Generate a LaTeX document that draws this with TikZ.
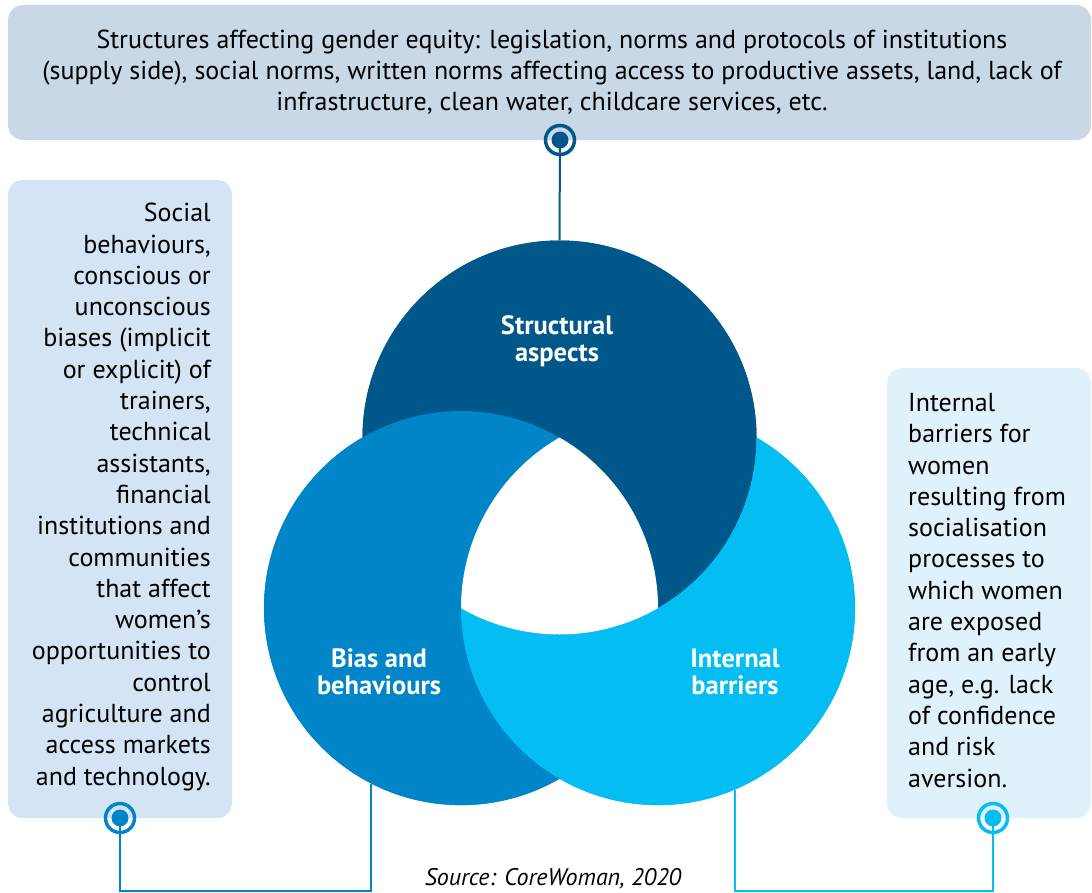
\documentclass[tikz,border=0pt]{standalone}
\usepackage{fontspec}
\setmainfont{PT Sans}
\definecolor{cdark}{HTML}{00588A}
\definecolor{cmed}{HTML}{0085C8}
\definecolor{clight}{HTML}{04BDF2}
\definecolor{topbox}{HTML}{C9D8E7}
\definecolor{leftbox}{HTML}{D4E4F4}
\definecolor{rightbox}{HTML}{DFF1FB}
\begin{document}
\begin{tikzpicture}[x=1pt,y=-1pt,
  body/.style={font=\fontsize{26}{31.3}\selectfont, text=black, inner sep=0pt},
  lab/.style={font=\fontsize{26.5}{27.5}\selectfont\bfseries, text=white, align=center, inner sep=0pt},
  ring/.style={circle, draw=#1, line width=3.5pt, minimum size=29pt, inner sep=0pt},
  conn/.style={draw=#1, line width=2pt},
  disc/.style={circle, minimum size=394pt, inner sep=0pt},
  boxfill/.style={fill=#1, rounded corners=15pt}]
\useasboundingbox (0,0) rectangle (1092,892);
% boxes
\fill[boxfill=topbox] (8,5) rectangle (1091,140);
\fill[boxfill=leftbox] (8,180) rectangle (232,818);
\fill[boxfill=rightbox] (887,368) rectangle (1091,818);
% circles (anchor nodes)
\node[disc] (ctop) at (559.5,437.5) {};
\node[disc] (cleft) at (461,608.1) {};
\node[disc] (cright) at (658,608.1) {};
% underlay
\fill[cdark] (559.5,437.5) circle[radius=197pt];
\fill[clight] (658,608.1) circle[radius=197pt];
\fill[cmed] (461,608.1) circle[radius=197pt];
% exact visible regions
% top minus left (dark)
\fill[cdark] (362.5,437.5) arc[start angle=180, end angle=420, radius=197]
  arc[start angle=0, end angle=-120, radius=197] -- cycle;
% left minus right (medium)
\fill[cmed] (559.5,437.5) arc[start angle=-60, end angle=-300, radius=197]
  arc[start angle=120, end angle=240, radius=197] -- cycle;
% right minus top (light)
\fill[clight] (756.5,437.5) arc[start angle=-60, end angle=180, radius=197]
  arc[start angle=120, end angle=0, radius=197] -- cycle;
% central Reuleaux triangle (white)
\fill[white] (559.5,437.5) arc[start angle=240, end angle=180, radius=197]
  arc[start angle=120, end angle=60, radius=197]
  arc[start angle=0, end angle=-60, radius=197] -- cycle;
% labels
\node[lab] (lt) at (557,341) {Structural\\aspects};
\node[lab] (ll) at (379,672) {Bias and\\behaviours};
\node[lab] (lr) at (735,672) {Internal\\barriers};
% texts
\node[body, align=center] (tt) at (552,72) {Structures affecting gender equity: legislation, norms and protocols of institutions\\(supply side), social norms, written norms affecting access to productive assets, land, lack of\\infrastructure, clean water, childcare services, etc.};
\node[body, align=right, anchor=north east] (tl) at (211,203) {Social\\behaviours,\\conscious or\\unconscious\\biases (implicit\\or explicit) of\\trainers,\\technical\\assistants,\\financial\\institutions and\\communities\\that affect\\women’s\\opportunities to\\control\\agriculture and\\access markets\\and technology.};
\node[body, align=left, anchor=north west] (tr) at (908,393) {Internal\\barriers for\\women\\resulting from\\socialisation\\processes to\\which women\\are exposed\\from an early\\age, e.g. lack\\of confidence\\and risk\\aversion.};
% markers
\node[ring=cdark] (mt) at (560,140) {};
\node[ring=cmed] (ml) at (120,818) {};
\node[ring=clight] (mr) at (993,818) {};
\fill[cdark] (mt.center) circle[radius=8.5pt];
\fill[cmed] (ml.center) circle[radius=8.5pt];
\fill[clight] (mr.center) circle[radius=8.5pt];
% connectors
\draw[conn=cdark] (mt.center) -- (ctop.north);
\draw[conn=cmed] (ml.center) -- (ml.center |- 0,891) -| (cleft.-117.2);
\draw[conn=clight] (mr.center) -- (mr.center |- 0,891) -| (cright.-67.6);
% source
\node[font=\fontsize{24}{28}\selectfont\itshape, inner sep=0pt] (src) at (553,879) {Source: CoreWoman, 2020};
\end{tikzpicture}
\end{document}
